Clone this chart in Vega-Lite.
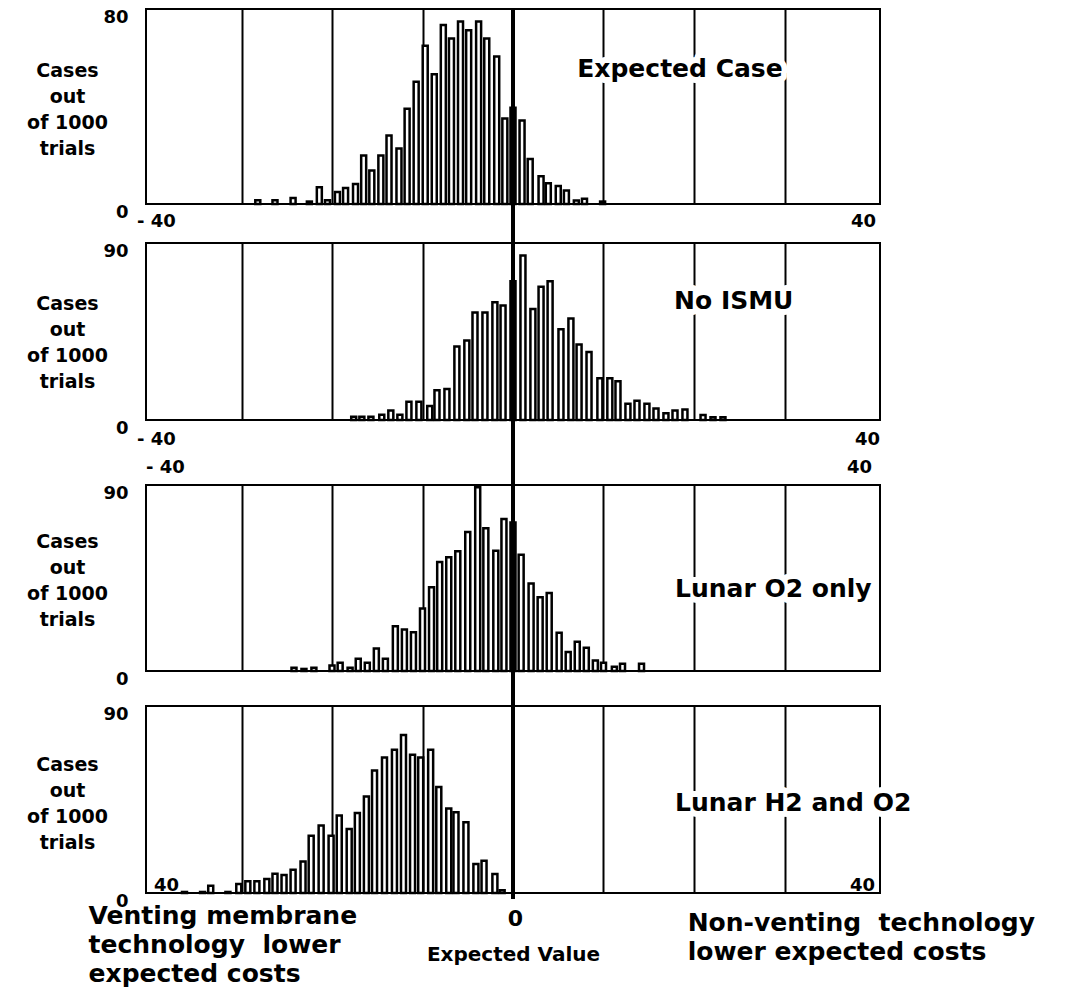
{
  "$schema": "https://vega.github.io/schema/vega-lite/v6.json",
  "background": "white",
  "padding": {"left": 25, "top": 6, "right": 0, "bottom": 0},
  "spacing": -8,
  "datasets": {
    "h1": [
      {"x": -28.2, "n": 1.5}, {"x": -26.3, "n": 1.5}, {"x": -24.3, "n": 2.5}, {"x": -22.5, "n": 1},
      {"x": -21.4, "n": 6.9}, {"x": -20.5, "n": 1.5}, {"x": -19.4, "n": 4.9}, {"x": -18.5, "n": 6.6},
      {"x": -17.4, "n": 8.2}, {"x": -16.5, "n": 19.9}, {"x": -15.6, "n": 13.7}, {"x": -14.6, "n": 19.9},
      {"x": -13.7, "n": 28.1}, {"x": -12.6, "n": 22.8}, {"x": -11.7, "n": 39.1}, {"x": -10.7, "n": 50.2},
      {"x": -9.7, "n": 64.9}, {"x": -8.7, "n": 53.2}, {"x": -7.7, "n": 73.4}, {"x": -6.8, "n": 67.9},
      {"x": -5.8, "n": 74.9}, {"x": -4.9, "n": 71.3}, {"x": -3.8, "n": 74.9}, {"x": -2.9, "n": 67.9},
      {"x": -1.8, "n": 60.5}, {"x": -0.9, "n": 35.1}, {"x": 0, "n": 39.5}, {"x": 1.0, "n": 34.3},
      {"x": 1.9, "n": 18.5}, {"x": 3.1, "n": 11.4}, {"x": 3.9, "n": 8.5}, {"x": 5.0, "n": 7.4},
      {"x": 5.9, "n": 5.5}, {"x": 7.0, "n": 1.4}, {"x": 7.9, "n": 2.2}, {"x": 9.9, "n": 1}
    ],
    "h2": [
      {"x": -17.6, "n": 1.7}, {"x": -16.7, "n": 1.7}, {"x": -15.7, "n": 1.7}, {"x": -14.5, "n": 2.7},
      {"x": -13.5, "n": 4.8}, {"x": -12.5, "n": 2.7}, {"x": -11.5, "n": 9.3}, {"x": -10.4, "n": 9.3},
      {"x": -9.2, "n": 7.1}, {"x": -8.4, "n": 15.1}, {"x": -7.3, "n": 15.8}, {"x": -6.2, "n": 37.4},
      {"x": -5.1, "n": 40.4}, {"x": -4.2, "n": 54.7}, {"x": -3.1, "n": 54.7}, {"x": -2.0, "n": 59.9},
      {"x": -1.1, "n": 58.2}, {"x": 0, "n": 70.5}, {"x": 1.1, "n": 83.7}, {"x": 2.2, "n": 56.4},
      {"x": 3.1, "n": 67.7}, {"x": 4.1, "n": 70.6}, {"x": 5.3, "n": 46.2}, {"x": 6.4, "n": 51.6},
      {"x": 7.3, "n": 38.4}, {"x": 8.4, "n": 34.6}, {"x": 9.6, "n": 21.2}, {"x": 10.7, "n": 21.2},
      {"x": 11.6, "n": 19.7}, {"x": 12.7, "n": 8.3}, {"x": 13.7, "n": 9.8}, {"x": 14.8, "n": 8.3},
      {"x": 15.8, "n": 5.9}, {"x": 16.9, "n": 3.4}, {"x": 17.9, "n": 4.8}, {"x": 19.0, "n": 5.3},
      {"x": 21.0, "n": 2.5}, {"x": 22.1, "n": 1.4}, {"x": 23.2, "n": 1.4}
    ],
    "h3": [
      {"x": -24.2, "n": 1.6}, {"x": -23.1, "n": 1}, {"x": -22.0, "n": 1.6}, {"x": -20.0, "n": 2.7},
      {"x": -19.1, "n": 4}, {"x": -18.0, "n": 1.6}, {"x": -17.1, "n": 5.9}, {"x": -16.1, "n": 4},
      {"x": -15.1, "n": 10.9}, {"x": -14.1, "n": 5.9}, {"x": -13.0, "n": 21.7}, {"x": -12.0, "n": 20.1},
      {"x": -11.0, "n": 18.8}, {"x": -10.0, "n": 30.2}, {"x": -9.0, "n": 40.5}, {"x": -8.1, "n": 52.7},
      {"x": -7.1, "n": 55}, {"x": -6.1, "n": 57.9}, {"x": -5.0, "n": 67.2}, {"x": -3.9, "n": 88.9},
      {"x": -3.0, "n": 69.1}, {"x": -1.9, "n": 58.2}, {"x": -1.0, "n": 73.5}, {"x": 0, "n": 71.9},
      {"x": 0.9, "n": 56.3}, {"x": 2.0, "n": 42.3}, {"x": 3.0, "n": 35.7}, {"x": 4.0, "n": 37.8},
      {"x": 5.1, "n": 18.5}, {"x": 6.1, "n": 9.2}, {"x": 7.1, "n": 14.1}, {"x": 8.1, "n": 11.3},
      {"x": 9.1, "n": 5.1}, {"x": 10.0, "n": 4}, {"x": 11.2, "n": 2.1}, {"x": 12.1, "n": 3.5},
      {"x": 14.2, "n": 3.5}
    ],
    "h4": [
      {"x": -36.3, "n": 0.5}, {"x": -34.3, "n": 0.5}, {"x": -33.4, "n": 3.5}, {"x": -31.5, "n": 0.5},
      {"x": -30.3, "n": 4.3}, {"x": -29.3, "n": 5.6}, {"x": -28.3, "n": 5.6}, {"x": -27.2, "n": 6.7},
      {"x": -26.3, "n": 9.3}, {"x": -25.3, "n": 8.7}, {"x": -24.3, "n": 11.2}, {"x": -23.2, "n": 15.2},
      {"x": -22.3, "n": 27.6}, {"x": -21.2, "n": 32.5}, {"x": -20.1, "n": 27.6}, {"x": -19.2, "n": 37.3},
      {"x": -18.1, "n": 30.8}, {"x": -17.2, "n": 38.5}, {"x": -16.2, "n": 46.5}, {"x": -15.3, "n": 59},
      {"x": -14.2, "n": 65.2}, {"x": -13.1, "n": 68.9}, {"x": -12.1, "n": 76.1}, {"x": -11.1, "n": 66.5},
      {"x": -10.2, "n": 65.2}, {"x": -9.1, "n": 68.9}, {"x": -8.2, "n": 51}, {"x": -7.1, "n": 40.7},
      {"x": -6.3, "n": 38.9}, {"x": -5.2, "n": 34}, {"x": -4.1, "n": 13.9}, {"x": -3.2, "n": 15.5},
      {"x": -2.0, "n": 9.1}, {"x": -1.2, "n": 1.3}
    ]
  },
  "vconcat": [
    {
      "width": 734, "height": 195,
      "layer": [
        {
          "data": {"name": "h1"},
          "mark": {"type": "bar", "size": 5, "fill": "white", "stroke": "black", "strokeWidth": 2.5},
          "encoding": {
            "x": {"field": "x", "type": "quantitative", "scale": {"domain": [-40, 40], "nice": false, "zero": false},
              "axis": {"values": [-40, -30, -20, -10, 0, 10, 20, 30, 40], "labelExpr": "datum.value == -40 ? '- 40' : (datum.value == 40 ? '40' : '')", "labelPadding": 8,
                "labelOffset": {"condition": {"test": "datum.value == 40", "value": -12}, "value": 5}, "title": null}},
            "y": {"field": "n", "type": "quantitative", "scale": {"domain": [0, 80], "nice": false},
              "axis": {"values": [0, 80], "title": ["Cases", "out", "of 1000", "trials"], "titleY": 61}}
          }
        },
        {
          "data": {"values": [{"x": 7.1, "y": 55.5, "t": "Expected Case"}]},
          "mark": {"type": "text", "align": "left", "baseline": "middle", "font": "DejaVu Sans", "fontWeight": "bold", "fontSize": 25, "fill": "white", "stroke": "white", "strokeWidth": 12, "strokeJoin": "round"},
          "encoding": {"x": {"field": "x", "type": "quantitative"}, "y": {"field": "y", "type": "quantitative"}, "text": {"field": "t"}}
        },
        {
          "data": {"values": [{"x": 7.1, "y": 55.5, "t": "Expected Case"}]},
          "mark": {"type": "text", "align": "left", "baseline": "middle", "font": "DejaVu Sans", "fontWeight": "bold", "fontSize": 25, "fill": "black"},
          "encoding": {"x": {"field": "x", "type": "quantitative"}, "y": {"field": "y", "type": "quantitative"}, "text": {"field": "t"}}
        },
        {
          "data": {"values": [{}]},
          "mark": {"type": "rule", "stroke": "black", "strokeWidth": 4},
          "encoding": {"x": {"datum": 0, "type": "quantitative"}, "y": {"datum": -11.1, "type": "quantitative"}, "y2": {"datum": 80}}
        }
      ]
    },
    {
      "width": 734, "height": 177,
      "layer": [
        {
          "data": {"name": "h2"},
          "mark": {"type": "bar", "size": 5, "fill": "white", "stroke": "black", "strokeWidth": 2.5},
          "encoding": {
            "x": {"field": "x", "type": "quantitative", "scale": {"domain": [-40, 40], "nice": false, "zero": false},
              "axis": {"values": [-40, -30, -20, -10, 0, 10, 20, 30, 40], "labelExpr": "datum.value == -40 ? '- 40' : (datum.value == 40 ? '40' : '')", "labelPadding": 10,
                "labelOffset": {"condition": {"test": "datum.value == 40", "value": -8}, "value": 5}, "title": null}},
            "y": {"field": "n", "type": "quantitative", "scale": {"domain": [0, 90], "nice": false},
              "axis": {"values": [0, 90], "title": ["Cases", "out", "of 1000", "trials"], "titleY": 60}}
          }
        },
        {
          "data": {"values": [{"x": 17.8, "y": 60.7, "t": "No ISMU"}]},
          "mark": {"type": "text", "align": "left", "baseline": "middle", "font": "DejaVu Sans", "fontWeight": "bold", "fontSize": 25, "fill": "white", "stroke": "white", "strokeWidth": 12, "strokeJoin": "round"},
          "encoding": {"x": {"field": "x", "type": "quantitative"}, "y": {"field": "y", "type": "quantitative"}, "text": {"field": "t"}}
        },
        {
          "data": {"values": [{"x": 17.8, "y": 60.7, "t": "No ISMU"}]},
          "mark": {"type": "text", "align": "left", "baseline": "middle", "font": "DejaVu Sans", "fontWeight": "bold", "fontSize": 25, "fill": "black"},
          "encoding": {"x": {"field": "x", "type": "quantitative"}, "y": {"field": "y", "type": "quantitative"}, "text": {"field": "t"}}
        },
        {
          "data": {"values": [{}]},
          "mark": {"type": "rule", "stroke": "black", "strokeWidth": 4},
          "encoding": {"x": {"datum": 0, "type": "quantitative"}, "y": {"datum": -16.24, "type": "quantitative"}, "y2": {"datum": 96.24}}
        }
      ]
    },
    {
      "width": 734, "height": 186,
      "layer": [
        {
          "data": {"name": "h3"},
          "mark": {"type": "bar", "size": 5, "fill": "white", "stroke": "black", "strokeWidth": 2.5},
          "encoding": {
            "x": {"field": "x", "type": "quantitative", "scale": {"domain": [-40, 40], "nice": false, "zero": false},
              "axis": {"orient": "top", "values": [-40, -30, -20, -10, 0, 10, 20, 30, 40], "labelExpr": "datum.value == -40 ? '- 40' : (datum.value == 40 ? '40' : '')", "labelPadding": 9,
                "labelOffset": {"condition": {"test": "datum.value == 40", "value": -16}, "value": 14}, "title": null}},
            "y": {"field": "n", "type": "quantitative", "scale": {"domain": [0, 90], "nice": false},
              "axis": {"values": [0, 90], "title": ["Cases", "out", "of 1000", "trials"], "titleY": 56}}
          }
        },
        {
          "data": {"values": [{"x": 17.9, "y": 39.6, "t": "Lunar O2 only"}]},
          "mark": {"type": "text", "align": "left", "baseline": "middle", "font": "DejaVu Sans", "fontWeight": "bold", "fontSize": 25, "fill": "white", "stroke": "white", "strokeWidth": 12, "strokeJoin": "round"},
          "encoding": {"x": {"field": "x", "type": "quantitative"}, "y": {"field": "y", "type": "quantitative"}, "text": {"field": "t"}}
        },
        {
          "data": {"values": [{"x": 17.9, "y": 39.6, "t": "Lunar O2 only"}]},
          "mark": {"type": "text", "align": "left", "baseline": "middle", "font": "DejaVu Sans", "fontWeight": "bold", "fontSize": 25, "fill": "black"},
          "encoding": {"x": {"field": "x", "type": "quantitative"}, "y": {"field": "y", "type": "quantitative"}, "text": {"field": "t"}}
        },
        {
          "data": {"values": [{}]},
          "mark": {"type": "rule", "stroke": "black", "strokeWidth": 4},
          "encoding": {"x": {"datum": 0, "type": "quantitative"}, "y": {"datum": -8.24, "type": "quantitative"}, "y2": {"datum": 106.87}}
        }
      ]
    },
    {
      "width": 734, "height": 187,
      "layer": [
        {
          "data": {"name": "h4"},
          "mark": {"type": "bar", "size": 5, "fill": "white", "stroke": "black", "strokeWidth": 2.5},
          "encoding": {
            "x": {"field": "x", "type": "quantitative", "scale": {"domain": [-40, 40], "nice": false, "zero": false},
              "axis": {"values": [-40, -30, -20, -10, 0, 10, 20, 30, 40],
                "labelExpr": "datum.value == 0 ? '0' : (abs(datum.value) == 40 ? '40' : '')",
                "labelBaseline": {"condition": {"test": "datum.value == 0", "value": "middle"}, "value": "bottom"},
                "labelPadding": {"condition": {"test": "datum.value == 0", "value": 25}, "value": 1},
                "labelFontSize": {"condition": {"test": "datum.value == 0", "value": 22}, "value": 18},
                "labelOffset": {"condition": [{"test": "datum.value == 0", "value": 2}, {"test": "datum.value == 40", "value": -13}], "value": 15},
                "title": "Expected Value", "titleFontSize": 20, "titleAlign": "center", "titleBaseline": "alphabetic", "titleX": 367, "titleY": 67}},
            "y": {"field": "n", "type": "quantitative", "scale": {"domain": [0, 90], "nice": false},
              "axis": {"values": [0, 90], "title": ["Cases", "out", "of 1000", "trials"], "titleY": 58}}
          }
        },
        {
          "data": {"values": [{"x": 17.9, "y": 43.5, "t": "Lunar H2 and O2"}]},
          "mark": {"type": "text", "align": "left", "baseline": "middle", "font": "DejaVu Sans", "fontWeight": "bold", "fontSize": 25, "fill": "white", "stroke": "white", "strokeWidth": 12, "strokeJoin": "round"},
          "encoding": {"x": {"field": "x", "type": "quantitative"}, "y": {"field": "y", "type": "quantitative"}, "text": {"field": "t"}}
        },
        {
          "data": {"values": [{"x": 17.9, "y": 43.5, "t": "Lunar H2 and O2"}]},
          "mark": {"type": "text", "align": "left", "baseline": "middle", "font": "DejaVu Sans", "fontWeight": "bold", "fontSize": 25, "fill": "black"},
          "encoding": {"x": {"field": "x", "type": "quantitative"}, "y": {"field": "y", "type": "quantitative"}, "text": {"field": "t"}}
        },
        {
          "data": {"values": [
            {"x": -46.9, "y": -5.5, "t": "Venting membrane\ntechnology\u00a0 lower\nexpected costs"},
            {"x": 19.3, "y": -8.9, "t": "Non-venting\u00a0 technology\nlower expected costs"}
          ]},
          "mark": {"type": "text", "align": "left", "baseline": "top", "lineBreak": "\n", "lineHeight": 29, "font": "DejaVu Sans", "fontWeight": "bold", "fontSize": 25, "fill": "black"},
          "encoding": {"x": {"field": "x", "type": "quantitative"}, "y": {"field": "y", "type": "quantitative"}, "text": {"field": "t"}}
        },
        {
          "data": {"values": [{}]},
          "mark": {"type": "rule", "stroke": "black", "strokeWidth": 4},
          "encoding": {"x": {"datum": 0, "type": "quantitative"}, "y": {"datum": -2.9, "type": "quantitative"}, "y2": {"datum": 99.04}}
        }
      ]
    }
  ],
  "config": {
    "view": {"stroke": "black", "strokeWidth": 2},
    "font": "DejaVu Sans",
    "axis": {"domain": false, "ticks": false, "labelFont": "DejaVu Sans", "labelFontSize": 18, "labelFontWeight": "bold", "labelColor": "black", "labelOverlap": false, "titleFont": "DejaVu Sans", "titleFontWeight": "bold", "titleColor": "black"},
    "axisX": {"grid": true, "gridColor": "black", "gridWidth": 2, "gridOpacity": {"condition": {"test": "abs(datum.value) == 40", "value": 0}, "value": 1}, "labelFlush": true},
    "axisY": {"grid": false, "labelPadding": 18, "labelOffset": 8, "titleAngle": 0, "titleAlign": "center", "titleBaseline": "middle", "titleX": -79, "titleFontSize": 19, "titleLineHeight": 26}
  }
}
